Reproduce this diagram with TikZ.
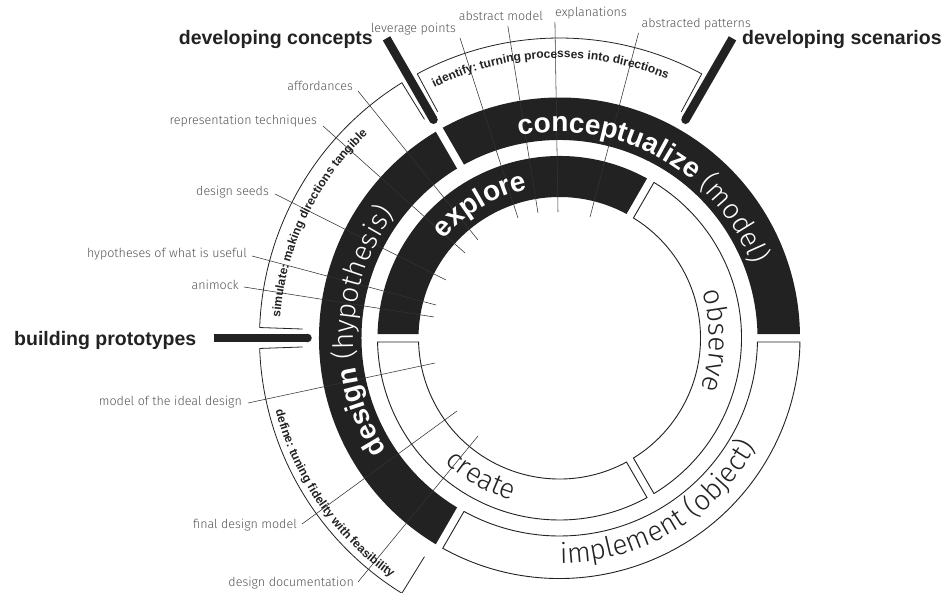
\documentclass[tikz,border=0pt]{standalone}
\usepackage{fontspec}
\setmainfont{Liberation Sans}
\IfFontExistsTF{Fira Sans Light}{\newfontfamily\lightf{Fira Sans Light}}{\newfontfamily\lightf{Liberation Sans}}
\usetikzlibrary{decorations.text,calc}
\definecolor{ink}{HTML}{222222}
\definecolor{lab}{HTML}{555555}
\definecolor{lead}{HTML}{333333}
\newcommand\ringseg[5]{\path[#5] ({#1+asin(4/#4)}:#4) arc[start angle={#1+asin(4/#4)}, end angle={#2-asin(4/#4)}, radius=#4] -- ({#2-asin(4/#3)}:#3) arc[start angle={#2-asin(4/#3)}, end angle={#1+asin(4/#3)}, radius=#3] -- cycle;}
\newcommand\bigB{\fontsize{28}{30}\selectfont\bfseries}
\newcommand\bigL{\lightf\fontsize{28}{30}\selectfont}
\newcommand\smB{\fontsize{12}{14}\selectfont\bfseries}
\begin{document}
\begin{tikzpicture}[x=1pt,y=1pt,
  lbl/.style={font=\lightf\fontsize{12.5}{14}\selectfont, text=lab, inner sep=1pt},
  bigl/.style={font=\bfseries\fontsize{19.5}{22}\selectfont, text=ink, inner sep=0pt},
  leader/.style={draw=lead, line width=0.55pt},
  bracket/.style={draw=ink, line width=0.8pt},
  blackseg/.style={fill=ink},
  whiteseg/.style={draw=ink, line width=0.9pt, fill=white},
  barline/.style={draw=ink, line width=8.5pt}]
\useasboundingbox (0,0) rectangle (949,592);
\fill[white] (0,0) rectangle (949,592);

% leader end points
\coordinate (e1) at (518,374);
\coordinate (e2) at (538,379);
\coordinate (e3) at (558,380);
\coordinate (e4) at (590,375);
\coordinate (e5) at (478,352);
\coordinate (e6) at (465,339);
\coordinate (e7) at (446,312);
\coordinate (e8) at (436,287);
\coordinate (e9) at (434,275);
\coordinate (e10) at (435,229);
\coordinate (e11) at (457,181);
\coordinate (e12) at (478,156);

\begin{scope}[shift={(559.5,254)}]
  % brackets
  \draw[bracket] (118.3:257) -- (118.3:300) arc[start angle=118.3, end angle=61.7, radius=300] -- (61.7:257);
  \draw[bracket] (178:257) -- (178:300) arc[start angle=178, end angle=121.7, radius=300] -- (121.7:257);
  \draw[bracket] (182:257) -- (182:300) arc[start angle=182, end angle=238.3, radius=300] -- (238.3:257);
  % outer ring
  \ringseg{0}{120}{198}{240.5}{blackseg}
  \ringseg{120}{240}{198}{240.5}{blackseg}
  \ringseg{240}{360}{198}{240.5}{whiteseg}
  % middle ring
  \ringseg{60}{180}{141}{182}{blackseg}
  \ringseg{180}{300}{141}{182}{whiteseg}
  \ringseg{-60}{60}{141}{182}{whiteseg}
\end{scope}

% leaders
\node[lbl, anchor=base east] (lev) at (457,559) {leverage points};
\node[lbl, anchor=base east] (abm) at (544,571) {abstract model};
\node[lbl, anchor=base east] (expl) at (628,575) {explanations};
\node[lbl, anchor=base east] (abp) at (752,564) {abstracted patterns};
\node[lbl, anchor=base east] (aff) at (354,501) {affordances};
\node[lbl, anchor=base east] (rep) at (318,467) {representation techniques};
\node[lbl, anchor=base east] (dsd) at (270,396) {design seeds};
\node[lbl, anchor=base east] (hyp) at (248,334) {hypotheses of what is useful};
\node[lbl, anchor=base east] (ani) at (240,302) {animock};
\node[lbl, anchor=base east] (mid) at (243,187) {model of the ideal design};
\node[lbl, anchor=base east] (fdm) at (298,64) {final design model};
\node[lbl, anchor=base east] (ddo) at (355,6) {design documentation};

\draw[leader] ($(lev.base east)+(3,-5)$) -- (e1);
\draw[leader] ($(abm.base)+(7,-5)$) -- (e2);
\draw[leader] ($(expl.base west)+(1,-5)$) -- (e3);
\draw[leader] ($(abp.base west)+(-2,-5)$) -- (e4);
\draw[leader] ($(aff.base east)+(4,0)$) -- (e5);
\draw[leader] ($(rep.base east)+(5,-1)$) -- (e6);
\draw[leader] ($(dsd.base east)+(5,2)$) -- (e7);
\draw[leader] ($(hyp.base east)+(4,2)$) -- (e8);
\draw[leader] ($(ani.base east)+(4,3)$) -- (e9);
\draw[leader] ($(mid.base east)+(5,2)$) -- (e10);
\draw[leader] ($(fdm.base east)+(4,4)$) -- (e11);
\draw[leader] ($(ddo.base east)+(3,4)$) -- (e12);

\begin{scope}[shift={(559.5,254)}]
  % curved texts
  \path[decorate, decoration={text along path, text align=center,
    text={|\bigB\color{white}|conceptualize |\bigL\color{white}|(model)}}]
    (141:206) arc[start angle=141, end angle=-19, radius=206];
  \path[decorate, decoration={text along path, text align=center,
    text={|\bigB\color{white}|design |\bigL\color{white}|(hypothesis)}}]
    (258:206) arc[start angle=258, end angle=98, radius=206];
  \path[decorate, decoration={text along path, text align=center,
    text={|\bigL\color{ink}|implement (object)}}]
    (220.6:225) arc[start angle=220.6, end angle=380.6, radius=225];
  \path[decorate, decoration={text along path, text align=center,
    text={|\bigB\color{white}|explore}}]
    (180.7:152) arc[start angle=180.7, end angle=60.7, radius=152];
  \path[decorate, decoration={text along path, text align=center,
    text={|\bigL\color{ink}|observe}}]
    (59:150) arc[start angle=59, end angle=-61, radius=150];
  \path[decorate, decoration={text along path, text align=center,
    text={|\bigL\color{ink}|create}}]
    (180.5:169) arc[start angle=180.5, end angle=300.5, radius=169];
  \path[decorate, decoration={text along path, text align=center,
    text={|\smB\color{ink}|identify: turning processes into directions}}]
    (150:280) arc[start angle=150, end angle=34, radius=280];
  \path[decorate, decoration={text along path, text align=center,
    text={|\smB\color{ink}|simulate: making directions tangible}}]
    (200:280) arc[start angle=200, end angle=109, radius=280];
  \path[decorate, decoration={text along path, text align=center,
    text={|\smB\color{ink}|define: tuning fidelity with feasibility}}]
    (170:293) arc[start angle=170, end angle=259.2, radius=293];
  % bars
  \draw[barline] (120:346) -- (120:252);
  \fill[ink] (120:252) circle[radius=4.25];
  \draw[barline] (60:346) -- (60:252);
  \fill[ink] (60:252) circle[radius=4.25];
  \draw[barline] (180:346) -- (180:252);
  \fill[ink] (180:252) circle[radius=4.25];
\end{scope}

\node[bigl, anchor=base east] (dcon) at (373,547) {developing concepts};
\node[bigl, anchor=base west] (dscn) at (742,547) {developing scenarios};
\node[bigl, anchor=base west] (bpro) at (14,247) {building prototypes};
\end{tikzpicture}
\end{document}
